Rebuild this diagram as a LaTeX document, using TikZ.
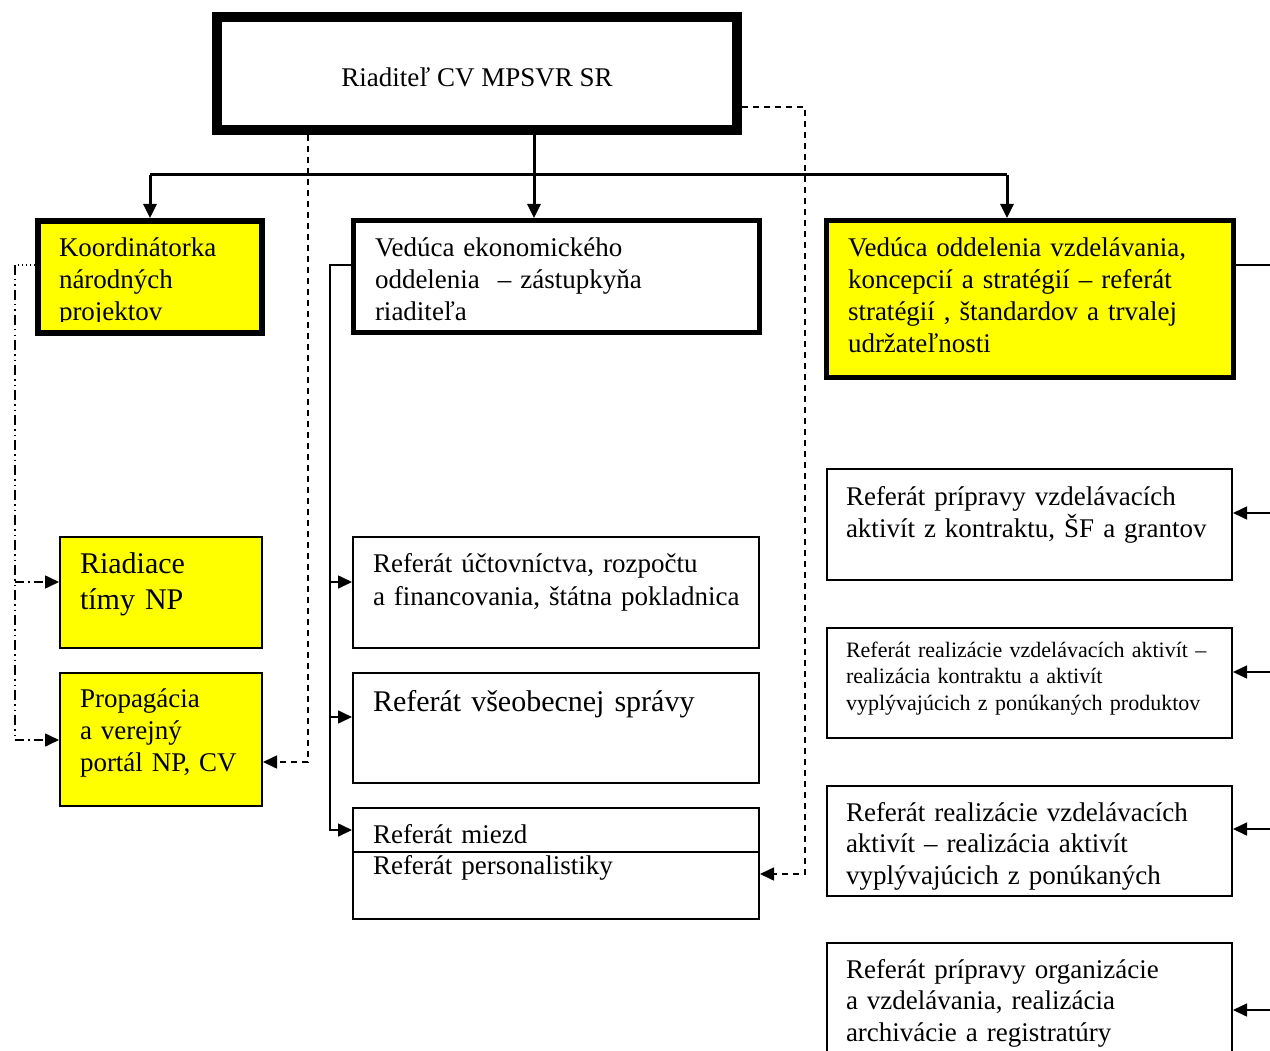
\documentclass[tikz,border=0pt]{standalone}
\usepackage{fontspec}
\setmainfont{Liberation Serif}
\usetikzlibrary{arrows.meta}
\definecolor{yel}{RGB}{255,255,0}
\begin{document}
\begin{tikzpicture}[x=1pt,y=-1pt,
  box/.style={draw, rectangle, inner sep=0pt},
  thinbox/.style={box, line width=2pt},
  txt/.style={anchor=base west, inner sep=0pt, outer sep=0pt, text width=430pt, align=left},
  tn/.style={font=\fontsize{27}{32}\selectfont},
  tb/.style={font=\fontsize{30}{36}\selectfont},
  ts/.style={font=\fontsize{22}{26.5}\selectfont},
  tip/.style={-{Triangle[length=14pt,width=13pt]}},
  main/.style={line width=3pt, tip},
  conn/.style={line width=1.6pt},
  dsh/.style={line width=1.6pt, dash pattern=on 6pt off 5pt},
  ddot/.style={line width=1.6pt, dash pattern=on 10pt off 4pt on 1.5pt off 4pt on 1.5pt off 4pt},
  dshdot/.style={line width=1.6pt, dash pattern=on 9pt off 4pt on 1.5pt off 4pt},
  dotl/.style={line width=1.6pt, dash pattern=on 1.5pt off 2.5pt}
]
\useasboundingbox (0,0) rectangle (1270,1051);
\clip (0,0) rectangle (1270,1051);

% top box
\node[box, line width=10pt, minimum width=520pt, minimum height=113pt] (top) at (477,73.5) {};
\node[anchor=base, inner sep=0pt, tn] (ttop) at (477,87) {Riaditeľ CV MPSVR SR};

% level 2 boxes
\node[box, line width=6pt, fill=yel, minimum width=224pt, minimum height=112pt] (kor) at (150,277) {};
\begin{scope}
  \clip (38,224) rectangle (262,322);
  \node[txt, tn] (tkor) at (59,257) {Koordinátorka\\národných\\projektov};
\end{scope}

\node[box, line width=5pt, minimum width=406pt, minimum height=112pt] (mid) at (556.5,276.5) {};
\node[txt, tn] (tmid) at (375,257) {Vedúca ekonomického\\oddelenia~~– zástupkyňa\\riaditeľa};

\node[box, line width=5pt, fill=yel, minimum width=407pt, minimum height=157pt] (ry) at (1030,299) {};
\node[txt, tn] (try) at (848,257) {Vedúca oddelenia vzdelávania,\\koncepcií a stratégií – referát\\stratégií , štandardov a trvalej\\udržateľnosti};

% left column
\node[thinbox, fill=yel, minimum width=202pt, minimum height=111pt] (riad) at (161,592.5) {};
\node[txt, tb] (triad) at (80,573) {Riadiace\\tímy NP};
\node[thinbox, fill=yel, minimum width=202pt, minimum height=133pt] (prop) at (161,739.5) {};
\node[txt, tn] (tprop) at (80,707) {Propagácia\\a verejný\\portál NP, CV};

% middle column
\node[thinbox, minimum width=406pt, minimum height=111pt] (uct) at (556,592.5) {};
\node[txt, font=\fontsize{27}{33}\selectfont] (tuct) at (373,572) {Referát účtovníctva, rozpočtu\\a financovania, štátna pokladnica};
\node[thinbox, minimum width=406pt, minimum height=110pt] (vseob) at (556,728) {};
\node[txt, tb] (tvseob) at (373,711) {Referát všeobecnej správy};
\node[thinbox, minimum width=406pt, minimum height=111pt] (miezd) at (556,863.5) {};
\coordinate (mdiv) at (0,852);
\draw[line width=2pt] (miezd.west |- mdiv) -- (miezd.east |- mdiv);
\node[txt, font=\fontsize{27}{31}\selectfont] (tmiezd) at (373,843) {Referát miezd\\Referát personalistiky};

% right column
\node[thinbox, minimum width=405pt, minimum height=111pt] (r1) at (1029.5,524.5) {};
\node[txt, tn] (tr1) at (846,505) {Referát prípravy vzdelávacích\\aktivít z kontraktu, ŠF a grantov};
\node[thinbox, minimum width=405pt, minimum height=110pt] (r2) at (1029.5,683) {};
\node[txt, ts] (tr2) at (846,657) {Referát realizácie vzdelávacích aktivít –\\realizácia kontraktu a aktivít\\vyplývajúcich z ponúkaných produktov};
\node[thinbox, minimum width=405pt, minimum height=110pt] (r3) at (1029.5,841) {};
\node[txt, font=\fontsize{27}{31.5}\selectfont] (tr3) at (846,821) {Referát realizácie vzdelávacích\\aktivít – realizácia aktivít\\vyplývajúcich z ponúkaných};
\node[thinbox, minimum width=405pt, minimum height=136pt] (r4) at (1029.5,1011) {};
\node[txt, font=\fontsize{27}{31.5}\selectfont] (tr4) at (846,978) {Referát prípravy organizácie\\a vzdelávania, realizácia\\archivácie a registratúry};

% main hierarchy
\coordinate (bus) at (534,175);
\coordinate (busL) at (150,175);
\coordinate (busR) at (1007,175);
\draw[line width=3pt] (busL) -- (busR);
\draw[main] (top.south -| bus) -- (mid.north -| bus);
\draw[main] (busL) -- (kor.north -| busL);
\draw[main] (busR) -- (ry.north -| busR);

% dashed from director
\coordinate (d1) at (308,762);
\draw[dsh, tip] (top.south -| d1) -- (d1) -- (prop.east |- d1);
\coordinate (d2) at (805,107);
\coordinate (d3) at (805,874);
\draw[dsh, tip] (top.east |- d2) -- (d2) -- (d3) -- (miezd.east |- d3);

% left dotted / dash-dot connectors
\coordinate (l1) at (15,265);
\coordinate (l2) at (15,582);
\coordinate (l3) at (15,740);
\draw[dotl] (kor.west |- l1) -- (l1);
\draw[ddot] (l1) -- (l3);
\draw[dshdot, tip] (l2) -- (riad.west |- l2);
\draw[dshdot, tip] (l3) -- (prop.west |- l3);

% middle solid connectors
\coordinate (m1) at (330,265);
\coordinate (m2) at (330,582);
\coordinate (m3) at (330,717);
\coordinate (m4) at (330,830);
\draw[conn, tip] (mid.west |- m1) -- (m1) -- (m4) -- (miezd.west |- m4);
\draw[conn, tip] (m2) -- (uct.west |- m2);
\draw[conn, tip] (m3) -- (vseob.west |- m3);

% right connectors
\coordinate (q0) at (1300,265);
\coordinate (q1) at (1300,513);
\coordinate (q2) at (1300,672);
\coordinate (q3) at (1300,829);
\coordinate (q4) at (1300,1010);
\draw[conn] (ry.east |- q0) -- (q0);
\draw[conn, tip] (q1) -- (r1.east |- q1);
\draw[conn, tip] (q2) -- (r2.east |- q2);
\draw[conn, tip] (q3) -- (r3.east |- q3);
\draw[conn, tip] (q4) -- (r4.east |- q4);
\end{tikzpicture}
\end{document}
